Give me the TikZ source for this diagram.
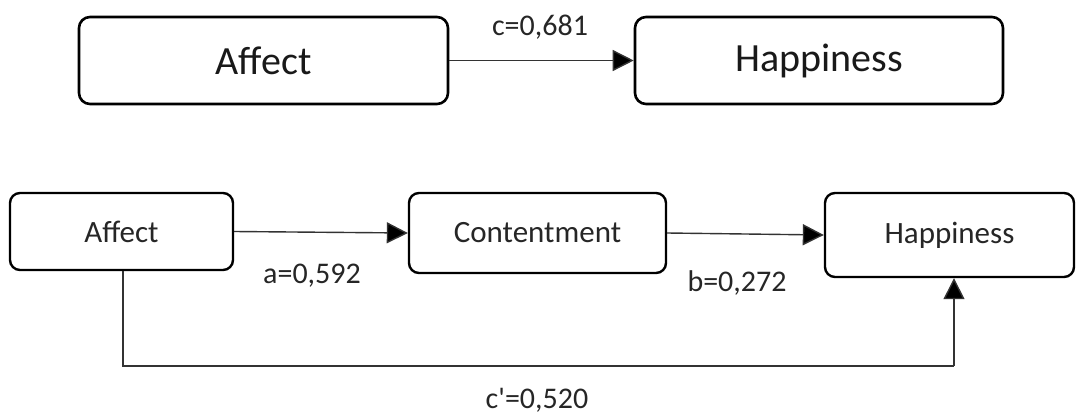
\documentclass[tikz,border=0pt]{standalone}
\usepackage{fontspec}
\setmainfont{Carlito}
\usetikzlibrary{arrows.meta}
\tikzset{
  bigbox/.style={draw=black, line width=2.6pt, rounded corners=11pt, inner sep=0pt, font=\fontsize{40}{44}\selectfont, text=black!90},
  smallbox/.style={draw=black, line width=2.4pt, rounded corners=10pt, inner sep=0pt, font=\fontsize{31}{35}\selectfont, text=black!85},
  conn/.style={line width=1.4pt, draw=black!80, -{Triangle[length=21pt,width=21pt,fill=black]}},
  plainconn/.style={line width=1.4pt, draw=black!80},
  lbl/.style={font=\fontsize{30}{34}\selectfont, text=black!85, inner sep=0pt}
}
\begin{document}
\begin{tikzpicture}[x=1pt,y=-1pt]
\useasboundingbox (0,0) rectangle (1076,415);
% top row
\node[bigbox, minimum width=369pt, minimum height=87pt] (A1) at (263.5,60.5) {Affect};
\node[bigbox, minimum width=368pt, minimum height=87pt] (H1) at (819,60.5) {Happiness};
\draw[conn] (A1.east) -- (H1.west);
\node[lbl] (lc) at (540,27) {c=0,681};
% bottom row
\node[smallbox, minimum width=223pt, minimum height=77pt] (A2) at (121.5,231.5) {Affect};
\node[smallbox, minimum width=257pt, minimum height=80pt] (C) at (537.5,233) {Contentment};
\node[smallbox, minimum width=249pt, minimum height=84pt] (H2) at (949.5,235) {Happiness};
\draw[conn] (A2.east) -- (C.west);
\draw[conn] (C.east) -- (H2.west);
\node[lbl] (la) at (312,276) {a=0,592};
\node[lbl] (lb) at (737,283) {b=0,272};
\coordinate (p1) at (123,366);
\coordinate (p2) at (954,366);
\draw[plainconn] (A2.south -| p1) -- (p1) -- (p2);
\draw[conn] (p2) -- (H2.south -| p2);
\node[lbl] (lcp) at (537,400) {c\textquotesingle=0,520};
\end{tikzpicture}
\end{document}
